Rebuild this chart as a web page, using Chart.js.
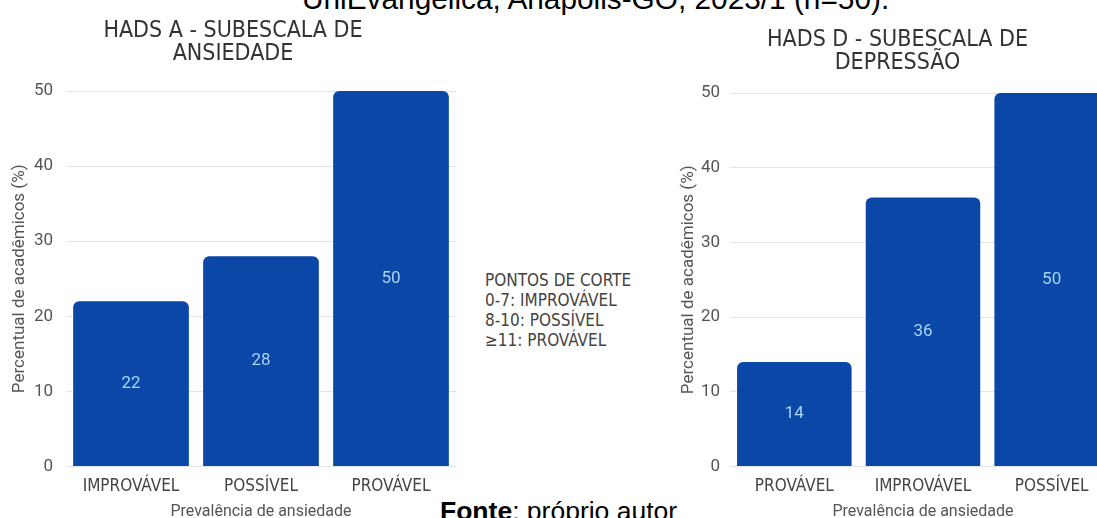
<!DOCTYPE html>
<html>
<head>
<meta charset="utf-8">
<script src="https://cdn.jsdelivr.net/npm/chart.js@4"></script>
<style>
  html, body { margin: 0; padding: 0; background: #fff; }
  #page { position: relative; width: 1097px; height: 518px; overflow: hidden; background: #fff; }
  .caption { position: absolute; font-family: Arial, "Liberation Sans", sans-serif; color: #000; white-space: nowrap; line-height: 1; }
  #cortes { position: absolute; left: 485px; top: 270px; font-family: "DejaVu Sans Condensed", "Roboto", sans-serif; font-size: 17px; line-height: 20px; color: #444; }
  #wrapA { position: absolute; left: 0; top: 0; width: 466px; height: 518px; }
  #wrapD { position: absolute; left: 660px; top: 0; width: 466px; height: 518px; }
</style>
</head>
<body>
<div id="page">
  <div class="caption" style="left:302px; top:-16.5px; font-size:29.8px;">UniEvangélica, Anápolis-GO, 2023/1 (n=50).</div>
  <div class="caption" style="left:440px; top:498px; font-size:26.5px;"><b>Fonte</b>: próprio autor</div>
  <div id="cortes">PONTOS DE CORTE<br>0-7: IMPROVÁVEL<br>8-10: POSSÍVEL<br>≥11: PROVÁVEL</div>
  <div id="wrapA"><canvas id="chartA"></canvas></div>
  <div id="wrapD"><canvas id="chartD"></canvas></div>
</div>
<script>
const labelsA = ["IMPROVÁVEL", "POSSÍVEL", "PROVÁVEL"];
const valuesA = [22, 28, 50];
const labelsD = ["PROVÁVEL", "IMPROVÁVEL", "POSSÍVEL"];
const valuesD = [14, 36, 50];
const yTicks = [0, 10, 20, 30, 40, 50];

const narrow = "'DejaVu Sans Condensed', Roboto, sans-serif";
const barColor = "#0a47a7";

// writes the value in the middle of each bar
const valueLabels = {
    id: "valueLabels",
    afterDatasetsDraw(chart) {
        const ctx = chart.ctx;
        const meta = chart.getDatasetMeta(0);
        ctx.save();
        ctx.font = "17px Roboto, sans-serif";
        ctx.fillStyle = "#a8d5f7";
        ctx.textAlign = "center";
        ctx.textBaseline = "middle";
        meta.data.forEach((bar, i) => {
            const v = chart.data.datasets[0].data[i];
            ctx.fillText(v, bar.x, (bar.y + bar.base) / 2);
        });
        ctx.restore();
    }
};

function makeChart(id, labels, values, title, opt) {
    return new Chart(document.getElementById(id), {
        type: "bar",
        data: {
            labels: labels,
            datasets: [{
                data: values,
                backgroundColor: barColor,
                borderRadius: { topLeft: 6, topRight: 6 },
                borderSkipped: "bottom",
                barPercentage: 0.89,
                categoryPercentage: 1
            }]
        },
        options: {
            responsive: true,
            maintainAspectRatio: false,
            animation: false,
            layout: { padding: { left: opt.padLeft, right: 10, top: opt.titleTop, bottom: 0 } },
            plugins: {
                legend: { display: false },
                tooltip: { enabled: false },
                title: {
                    display: true,
                    text: title,
                    color: "#333",
                    font: { family: narrow, size: 23, weight: "normal", lineHeight: 1 },
                    padding: { top: 0, bottom: opt.titleGap }
                }
            },
            scales: {
                x: {
                    grid: { display: false, drawTicks: false },
                    border: { display: false },
                    ticks: { color: "#444", font: { family: narrow, size: 17 }, padding: 10 },
                    title: {
                        display: true,
                        text: "Prevalência de ansiedade",
                        color: "#555",
                        font: { family: "Roboto, sans-serif", size: 16, lineHeight: 1 },
                        padding: { top: -3, bottom: -2 }
                    }
                },
                y: {
                    min: 0,
                    max: 50,
                    afterBuildTicks: axis => { axis.ticks = yTicks.map(v => ({ value: v })); },
                    afterFit: axis => { axis.width = opt.axisWidth; },
                    grid: { color: "#e4e4e4", drawTicks: false },
                    border: { display: false },
                    ticks: { color: "#555", font: { family: "Roboto, sans-serif", size: 17 }, padding: opt.tickPad },
                    title: {
                        display: true,
                        text: "Percentual de acadêmicos (%)",
                        color: "#555",
                        font: { family: "Roboto, sans-serif", size: 17, lineHeight: 1.1 },
                        padding: 0
                    }
                }
            }
        },
        plugins: [valueLabels]
    });
}

makeChart("chartA", labelsA, valuesA, ["HADS A - SUBESCALA DE", "ANSIEDADE"],
    { padLeft: 10, axisWidth: 56, tickPad: 13, titleTop: 20, titleGap: 25 });
makeChart("chartD", labelsD, valuesD, ["HADS D - SUBESCALA DE", "DEPRESSÃO"],
    { padLeft: 19, axisWidth: 51, tickPad: 10, titleTop: 29, titleGap: 18 });
</script>
</body>
</html>
